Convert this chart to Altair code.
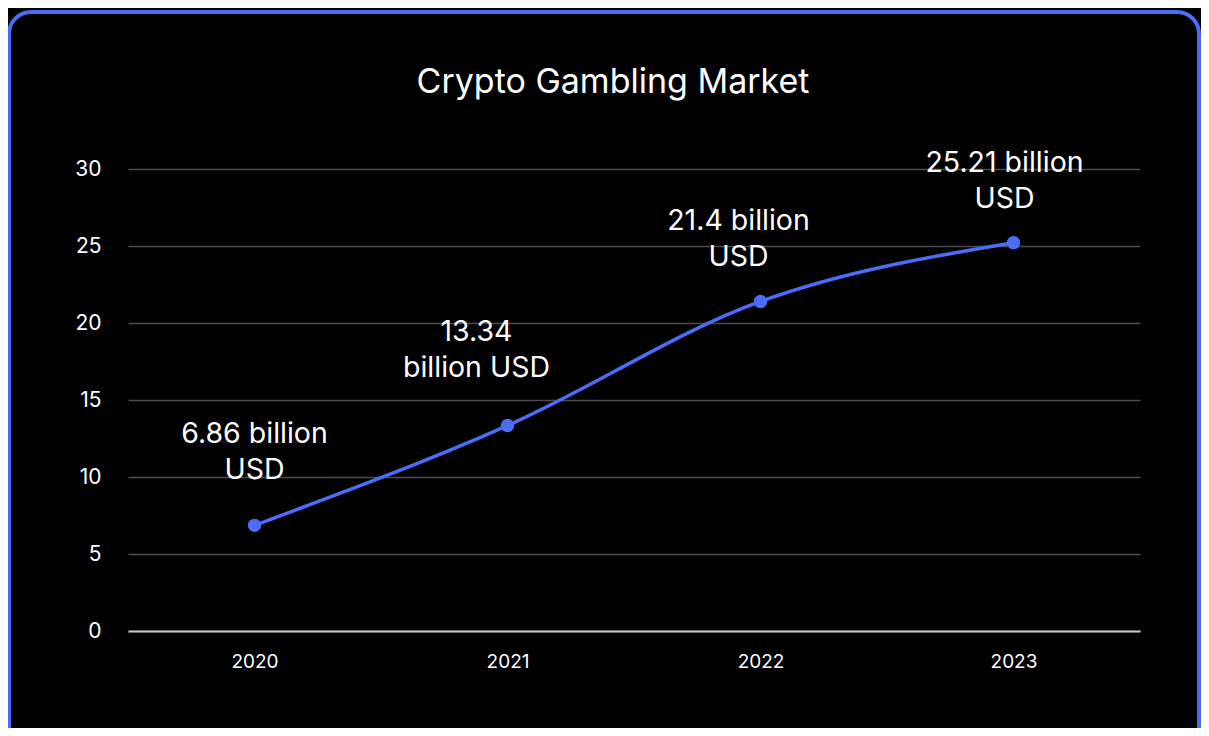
import altair as alt
import pandas as pd

years = ["2020", "2021", "2022", "2023"]
values = [6.86, 13.34, 21.4, 25.21]
labels = [
    ["6.86 billion", "USD"],
    ["13.34", "billion USD"],
    ["21.4 billion", "USD"],
    ["25.21 billion", "USD"],
]
y_ticks = [0, 5, 10, 15, 20, 25, 30]

FONT = "Inter"
BLUE = "#4a6cf7"

df = pd.DataFrame({"year": years, "value": values, "label": labels})

x_enc = alt.X(
    "year:O",
    scale=alt.Scale(type="point", padding=0.5),
    axis=alt.Axis(
        title=None, labelAngle=0, ticks=False, grid=False,
        domain=True, domainColor="#c8c8c8", domainWidth=2,
        labelColor="white", labelFont=FONT, labelFontSize=19,
        labelPadding=21,
    ),
)
y_enc = alt.Y(
    "value:Q",
    scale=alt.Scale(domain=[0, 30], nice=False),
    axis=alt.Axis(
        title=None, values=y_ticks, ticks=False, domain=False,
        grid=True, gridColor="#4d4d4d", gridWidth=1.5,
        labelColor="white", labelFont=FONT, labelFontSize=21,
        labelPadding=27,
    ),
)

base = alt.Chart(df).encode(x=x_enc, y=y_enc)

frame = alt.Chart(pd.DataFrame({"a": [0]})).mark_rect(
    fillOpacity=0, stroke=BLUE, strokeWidth=4, cornerRadius=22
).encode(
    x=alt.value(-119), x2=alt.value(1071),
    y=alt.value(-157), y2=alt.value(640),
)

line = base.mark_line(color=BLUE, strokeWidth=3.5, interpolate="monotone")
points = base.mark_point(filled=True, color=BLUE, size=180, opacity=1)

offsets = {"2020": (0, -91), "2021": (-31, -94), "2022": (-22, -80), "2023": (-9, -80)}
texts = []
for yr, (dx, dy) in offsets.items():
    texts.append(
        base.transform_filter(alt.datum.year == yr).mark_text(
            font=FONT, fontSize=28.5, color="white", align="center",
            baseline="middle", lineHeight=36, dx=dx, dy=dy,
        ).encode(text="label")
    )

chart = alt.layer(frame, line, points, *texts).properties(
    width=1012,
    height=462,
    title=alt.TitleParams(
        "Crypto Gambling Market", font=FONT, fontSize=34, fontWeight="normal",
        color="white", anchor="middle", dx=-21, offset=-117, baseline="alphabetic",
    ),
    autosize=alt.AutoSizeParams(type="none"),
    padding={"left": 120, "top": 161, "right": 61, "bottom": 97},
).configure(background="#000000").configure_view(stroke=None)

chart.save("out.html", embed_options={"renderer": "svg", "actions": False})
